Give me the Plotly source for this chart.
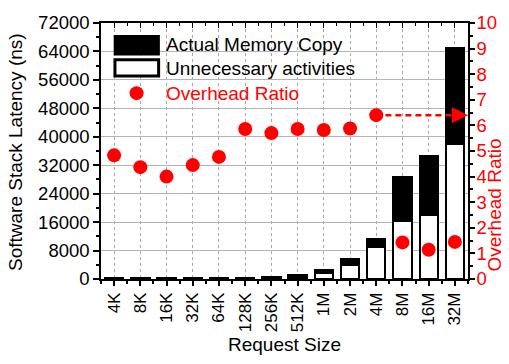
import plotly.graph_objects as go

sizes = ["4K", "8K", "16K", "32K", "64K", "128K", "256K", "512K", "1M", "2M", "4M", "8M", "16M", "32M"]
unnecessary = [120, 130, 140, 150, 170, 200, 300, 600, 1600, 4070, 9120, 16400, 18000, 38000]
actual = [25, 30, 35, 35, 40, 150, 400, 550, 970, 1420, 2040, 12400, 16600, 27000]
ratio = [4.83, 4.37, 4.0, 4.45, 4.77, 5.86, 5.70, 5.86, 5.82, 5.88, 6.40, 1.43, 1.14, 1.45]
left_ticks = [0, 8000, 16000, 24000, 32000, 40000, 48000, 56000, 64000, 72000]
right_ticks = list(range(0, 11))

FONT = "Liberation Sans, Arial, sans-serif"
RED = "#ff0000"
xs = list(range(len(sizes)))
xmin, xmax = -0.5, len(sizes) - 0.5

fig = go.Figure()
fig.add_trace(go.Bar(x=xs, y=unnecessary, width=0.7, marker=dict(color="white", line=dict(color="black", width=2.5)),
                     name="Unnecessary activities", showlegend=False))
fig.add_trace(go.Bar(x=xs, y=actual, width=0.7, marker=dict(color="black", line=dict(color="black", width=2.5)),
                     name="Actual Memory Copy", showlegend=False))
fig.add_trace(go.Scatter(x=xs, y=ratio, yaxis="y2", mode="markers",
                         marker=dict(color=RED, size=14), name="Overhead Ratio", showlegend=False))
# empty trace so the top (mirror) axis with inward ticks is drawn
fig.add_trace(go.Scatter(x=[], y=[], xaxis="x2", yaxis="y", showlegend=False, hoverinfo="skip"))

# dashed arrow from 4M ratio point to right axis
i4m = sizes.index("4M")
fig.add_shape(type="line", xref="x", yref="y2", x0=i4m + 0.35, x1=xmax - 0.45, y0=ratio[i4m], y1=ratio[i4m],
              line=dict(color=RED, width=2.5, dash="6px,4px"))
fig.add_annotation(x=xmax, y=ratio[i4m], xref="x", yref="y2", ax=xmax - 0.5, ay=ratio[i4m], axref="x", ayref="y2",
                   text="", showarrow=True, arrowhead=2, arrowsize=1.3, arrowwidth=2.5, arrowcolor=RED)

# custom legend
fig.add_shape(type="rect", xref="paper", yref="paper", x0=0.038, x1=0.157, y0=0.878, y1=0.948,
              fillcolor="black", line=dict(color="black", width=2.5))
fig.add_shape(type="rect", xref="paper", yref="paper", x0=0.038, x1=0.157, y0=0.793, y1=0.856,
              fillcolor="white", line=dict(color="black", width=3))
fig.add_shape(type="circle", xref="paper", yref="paper", xsizemode="pixel", ysizemode="pixel",
              xanchor=0.097, yanchor=0.726, x0=-7, x1=7, y0=-7, y1=7,
              fillcolor=RED, line=dict(color=RED, width=0))
for txt, yy, col in [("Actual Memory Copy", 0.915, "black"), ("Unnecessary activities", 0.824, "black"),
                     ("Overhead Ratio", 0.726, RED)]:
    fig.add_annotation(x=0.171, y=yy, xref="paper", yref="paper", text=txt, showarrow=False,
                       xanchor="left", yanchor="middle", font=dict(family=FONT, size=19, color=col))

# axis titles
fig.add_annotation(x=-0.233, y=0.498, xref="paper", yref="paper", text="Software Stack Latency (ns)",
                   textangle=-90, showarrow=False, xanchor="center", yanchor="middle", borderpad=0,
                   font=dict(family=FONT, size=19, color="black"))
fig.add_annotation(x=1.073, y=0.29, xref="paper", yref="paper", text="Overhead Ratio",
                   textangle=-90, showarrow=False, xanchor="center", yanchor="middle", borderpad=0,
                   font=dict(family=FONT, size=19, color=RED))

fig.update_layout(
    width=509, height=364,
    margin=dict(l=101, r=39, t=15, b=78),
    paper_bgcolor="white", plot_bgcolor="white",
    barmode="stack", bargap=0,
    font=dict(family=FONT, size=19, color="black"),
    xaxis=dict(range=[xmin, xmax], tickmode="array", tickvals=xs, ticktext=sizes, tickangle=-90,
               tickfont=dict(size=17), ticks="outside", ticklen=5, tickwidth=1.5, tickcolor="black",
               minor=dict(tickmode="linear", tick0=0.5, dtick=1, ticks="outside", ticklen=3, tickcolor="black", showgrid=False),
               showline=True, linecolor="black", linewidth=1.5, mirror=True,
               showgrid=True, gridcolor="#aaaaaa", griddash="dot", gridwidth=1, zeroline=False,
               title=dict(text="Request Size", font=dict(size=19), standoff=6)),
    xaxis2=dict(range=[xmin, xmax], overlaying="x", side="top", anchor="y", tickmode="array", tickvals=xs,
                showticklabels=False, ticks="inside", ticklen=5, tickwidth=1.2, tickcolor="black",
                minor=dict(tickmode="linear", tick0=0.5, dtick=1, ticks="inside", ticklen=3, tickcolor="black", showgrid=False),
                showline=False, showgrid=False, zeroline=False),
    yaxis=dict(range=[0, 72000], tickmode="array", tickvals=left_ticks, ticktext=[str(v) for v in left_ticks],
               ticks="outside", ticklen=6, tickwidth=1.5, tickcolor="black",
               minor=dict(tickmode="linear", tick0=4000, dtick=8000, ticks="outside", ticklen=3, tickcolor="black", showgrid=False),
               showline=True, linecolor="black", linewidth=1.5, mirror=True,
               showgrid=True, gridcolor="#b4b4b4", gridwidth=1, zeroline=False, tickfont=dict(size=18.5)),
    yaxis2=dict(range=[0, 10], overlaying="y", side="right", tickmode="array", tickvals=right_ticks,
                ticks="outside", ticklen=5, tickwidth=1.5, tickcolor="black", ticklabelstandoff=-2,
                minor=dict(tickmode="linear", tick0=0.5, dtick=1, ticks="outside", ticklen=3, tickcolor="black", showgrid=False),
                showline=True, linecolor="black", linewidth=1.5, showgrid=False, zeroline=False,
                tickfont=dict(size=18.5, color=RED)),
)

fig.write_html("out.html", config={"displayModeBar": False},
               post_script="document.body.style.margin='0';document.body.style.padding='0';")
